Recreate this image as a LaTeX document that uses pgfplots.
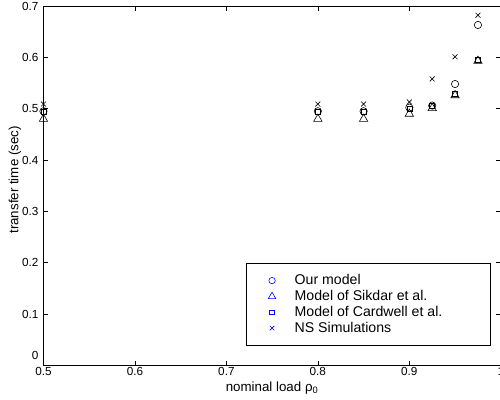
\documentclass[border=0pt]{standalone}
\usepackage{fontspec}
\setmainfont{Liberation Sans}
\usepackage{pgfplots}
\pgfplotsset{compat=1.18}
\pgfplotsset{
  legmark/.style={only marks, line width=0.45pt, blue,
    legend image code/.code={
      \path[draw=none, fill=none] (0pt,0pt) -- (33pt,0pt);
      \draw[mark repeat=2, mark phase=2, ##1]
        plot coordinates {(0pt,0pt) (16.5pt,0pt) (33pt,0pt)};}},
}

% transfer time vs nominal load, one table per model
\pgfplotstableread{
rho   t
0.50  0.495
0.80  0.495
0.85  0.495
0.90  0.502
0.925 0.506
0.95  0.548
0.975 0.663
}\ourmodel
\pgfplotstableread{
rho   t
0.50  0.480
0.80  0.480
0.85  0.480
0.90  0.490
0.925 0.501
0.95  0.526
0.975 0.593
}\sikdar
\pgfplotstableread{
rho   t
0.50  0.494
0.80  0.494
0.85  0.494
0.90  0.499
0.925 0.506
0.95  0.529
0.975 0.596
}\cardwell
\pgfplotstableread{
rho   t
0.50  0.509
0.80  0.509
0.85  0.509
0.90  0.513
0.925 0.558
0.95  0.601
0.975 0.682
}\nssim

\begin{document}
\begin{tikzpicture}
\begin{axis}[
    scale only axis,
    width=343.1pt, height=269.6pt,
    xmin=0.5, xmax=1, ymin=0, ymax=0.7,
    xtick={0.5,0.6,0.7,0.8,0.9,1},
    ytick={0.1,0.2,0.3,0.4,0.5,0.6,0.7},
    extra y ticks={0},
    extra y tick style={yticklabel style={yshift=7.5pt}},
    tick align=inside, tick pos=both,
    major tick length=3.5pt,
    axis line style={line width=0.6pt},
    every tick/.style={black, line width=0.5pt},
    /pgf/number format/assume math mode=true,
    ticklabel style={font=\fontsize{8.8}{10}\selectfont},
    xticklabel style={inner sep=0pt, yshift=-1.5pt},
    yticklabel style={inner sep=0pt, xshift=-3.5pt},
    label style={font=\fontsize{8.6}{10}\selectfont},
    xlabel={nominal load ρ\textsubscript{0}},
    ylabel={transfer time (sec)},
    every axis x label/.style={at={(axis description cs:0.5,0)}, anchor=north, yshift=-9pt},
    every axis y label/.style={at={(axis description cs:-0.0624,0.516)}, rotate=90, anchor=center},
    legend style={
        at={(0.978,0.054)}, anchor=south east,
        draw=black, line width=0.6pt,
        font=\fontsize{10.6}{12.5}\selectfont,
        nodes={inner sep=0.5pt},
        inner xsep=3pt, inner ysep=8pt,
        row sep=1.7pt,
        cells={anchor=west},
    },
]
\addplot[forget plot, only marks, mark=o, mark size=2.75pt, black, line width=0.45pt] table[x=rho, y=t] {\ourmodel};
\addplot[forget plot, only marks, mark=triangle, mark size=3.6pt, black, line width=0.45pt] table[x=rho, y=t] {\sikdar};
\addplot[forget plot, only marks, mark=square, mark size=1.9pt, black, line width=0.45pt] table[x=rho, y=t] {\cardwell};
\addplot[forget plot, only marks, mark=x, mark size=2.6pt, black, line width=0.45pt] table[x=rho, y=t] {\nssim};

\addlegendimage{legmark, mark=o, mark size=2.4pt}
\addlegendentry{Our model}
\addlegendimage{legmark, mark=triangle, mark size=3.2pt}
\addlegendentry{Model of Sikdar et al.}
\addlegendimage{legmark, mark=square, mark size=1.7pt}
\addlegendentry{Model of Cardwell et al.\hspace*{32.5pt}}
\addlegendimage{legmark, mark=x, mark size=2.4pt}
\addlegendentry{NS Simulations}
\end{axis}
\pgfresetboundingbox
\path ([xshift=-32.6pt,yshift=-25.9pt]current axis.south west)
    rectangle ([xshift=-0.6pt,yshift=4.5pt]current axis.north east);
\end{tikzpicture}
\end{document}
